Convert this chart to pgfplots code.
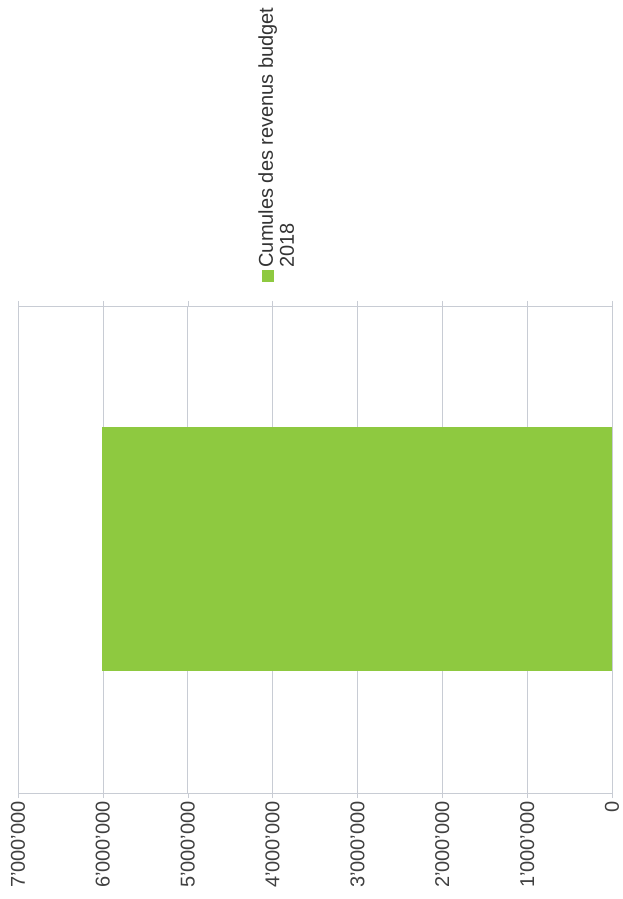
\documentclass[border=0pt]{standalone}
\usepackage{fontspec}
\setmainfont{Liberation Sans}
\usepackage{pgfplots}
\pgfplotsset{compat=1.18}
\definecolor{bargreen}{RGB}{142,201,64}
\definecolor{gridc}{RGB}{200,204,212}
\begin{document}
\begin{tikzpicture}
\path (0pt,0pt) rectangle (618pt,899pt);
\begin{axis}[
  at={(18pt,106pt)}, anchor=south west,
  scale only axis, width=594pt, height=487pt,
  xbar, x dir=reverse,
  xmin=0, xmax=7000000,
  ymin=0, ymax=2,
  bar width=244pt,
  axis line style={gridc},
  xmajorgrids, grid style={gridc, line width=0.6pt},
  xtick={0,1000000,...,7000000},
  ytick=\empty,
  tick align=outside, major tick length=5pt,
  tick style={gridc},
  scaled x ticks=false,
  /pgf/number format/.cd, fixed, 1000 sep={'}, assume math mode=true,
  /pgfplots/.cd,
  xticklabel style={rotate=90, anchor=east, font=\fontsize{20}{22}\selectfont, text=black!75, inner sep=3pt},
  legend plot pos=right,
  legend style={draw=none, fill=none, at={(0.436,1.0703)}, anchor=south,
    font=\fontsize{20}{21}\selectfont, text=black!80,
    nodes={rotate=90}, cells={align=left}},
  legend image code/.code={\fill[bargreen, overlay] (-35pt,-145pt) rectangle (-23pt,-133pt);},
]
\addplot[fill=bargreen, draw=none] coordinates {(6010000,1)};
\addlegendentry{Cumules des revenus budget\\2018}
\end{axis}
\end{tikzpicture}
\end{document}
